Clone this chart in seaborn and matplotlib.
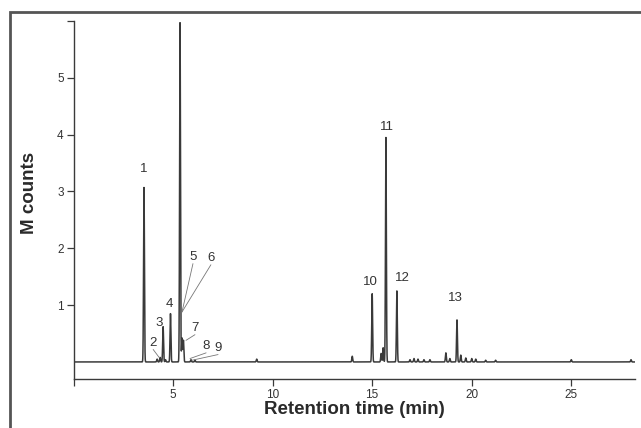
import numpy as np
import pandas as pd
import matplotlib
matplotlib.use("Agg")
import matplotlib.pyplot as plt
from matplotlib.patches import Rectangle
import seaborn as sns

# Peak table: retention time (min), height (M counts)
peak_times = [3.54, 4.20, 4.35, 4.50, 4.62, 4.87, 5.35, 5.45, 5.52, 5.90, 6.10,
              9.20, 14.00, 15.00, 15.45, 15.55, 15.69, 16.24, 16.90, 17.10,
              17.30, 17.60, 17.90, 18.70, 18.90, 19.26, 19.45, 19.70, 20.00,
              20.20, 20.70, 21.20, 25.00, 28.00]
peak_heights = [3.07, 0.05, 0.08, 0.62, 0.04, 0.85, 5.97, 0.42, 0.38, 0.04, 0.03,
                0.05, 0.10, 1.20, 0.15, 0.25, 3.95, 1.25, 0.04, 0.06,
                0.05, 0.04, 0.04, 0.16, 0.06, 0.74, 0.12, 0.07, 0.06,
                0.05, 0.03, 0.03, 0.04, 0.04]
peak_width = 0.022  # min

# Numbered peak labels: (text, x, y) in data units
label_text = ["1", "2", "3", "4", "5", "6", "7", "8", "9", "10", "11", "12", "13"]
label_x = [3.54, 4.00, 4.30, 4.80, 6.00, 6.90, 6.10, 6.66, 7.26, 14.90, 15.75, 16.50, 19.20]
label_y = [3.39, 0.34, 0.69, 1.02, 1.85, 1.83, 0.60, 0.28, 0.25, 1.41, 4.13, 1.48, 1.13]

# Leader lines for the crowded early region: label index -> peak point
leader_idx = [1, 4, 5, 6, 7, 8]
leader_tip_x = [4.30, 5.45, 5.45, 5.65, 5.85, 5.95]
leader_tip_y = [0.08, 0.88, 0.88, 0.38, 0.06, 0.03]

x_ticks = [0, 5, 10, 15, 20, 25]
x_tick_labels = ["", "5", "10", "15", "20", "25"]
y_ticks = [1, 2, 3, 4, 5, 6]
y_tick_labels = ["1", "2", "3", "4", "5", ""]

t = np.arange(0.0, 28.2, 0.002)
signal = np.zeros_like(t)
for pt, ph in zip(peak_times, peak_heights):
    signal += ph * np.exp(-0.5 * ((t - pt) / peak_width) ** 2)
trace = pd.DataFrame({"time": t, "signal": signal})

sns.set_theme(style="white")
plt.rcParams["font.family"] = ["Liberation Sans", "DejaVu Sans"]

ink = "#3a3a3a"
fig = plt.figure(figsize=(6.41, 4.28), dpi=100)
ax = fig.add_axes([73.5 / 641, 1 - 379 / 428, 561.5 / 641, 358 / 428])

sns.lineplot(data=trace, x="time", y="signal", ax=ax, color=ink, lw=1.1,
             estimator=None, sort=False)

ax.set_xlim(0, 28.2)
ax.set_ylim(-0.3, 6.0)
ax.set_xticks(x_ticks)
ax.set_xticklabels(x_tick_labels)
ax.set_yticks(y_ticks)
ax.set_yticklabels(y_tick_labels)
ax.tick_params(axis="both", direction="out", length=5, width=0.9, color=ink,
               labelsize=8.5, labelcolor="#333333", pad=2)
ax.tick_params(axis="both", which="both", bottom=True, left=True)
for side in ("top", "right"):
    ax.spines[side].set_visible(False)
for side in ("left", "bottom"):
    ax.spines[side].set_color(ink)
    ax.spines[side].set_linewidth(1.0)

ax.set_xlabel("Retention time (min)", fontsize=13.5, fontweight="bold", color="#2a2a2a")
ax.set_ylabel("M counts", fontsize=13.5, fontweight="bold", color="#2a2a2a")
ax.xaxis.set_label_coords(0.5, -0.062)
ax.yaxis.set_label_coords(-0.063, 0.521)

for txt, lx, ly in zip(label_text, label_x, label_y):
    ax.text(lx, ly, txt, ha="center", va="center", fontsize=9.5, color="#333333")

for i, tx, ty in zip(leader_idx, leader_tip_x, leader_tip_y):
    ax.annotate("", xy=(tx, ty), xytext=(label_x[i], label_y[i] - 0.12),
                arrowprops=dict(arrowstyle="-", color="#777777", lw=0.6,
                                shrinkA=0, shrinkB=0))

# Page frame around the panel
fig.patches.append(Rectangle((10 / 641, -0.05), 1.0, 1 - 12 / 428 + 0.05,
                             transform=fig.transFigure, fill=False,
                             ec="#555555", lw=2.0, clip_on=False))

fig.savefig("out.png", dpi=100)
